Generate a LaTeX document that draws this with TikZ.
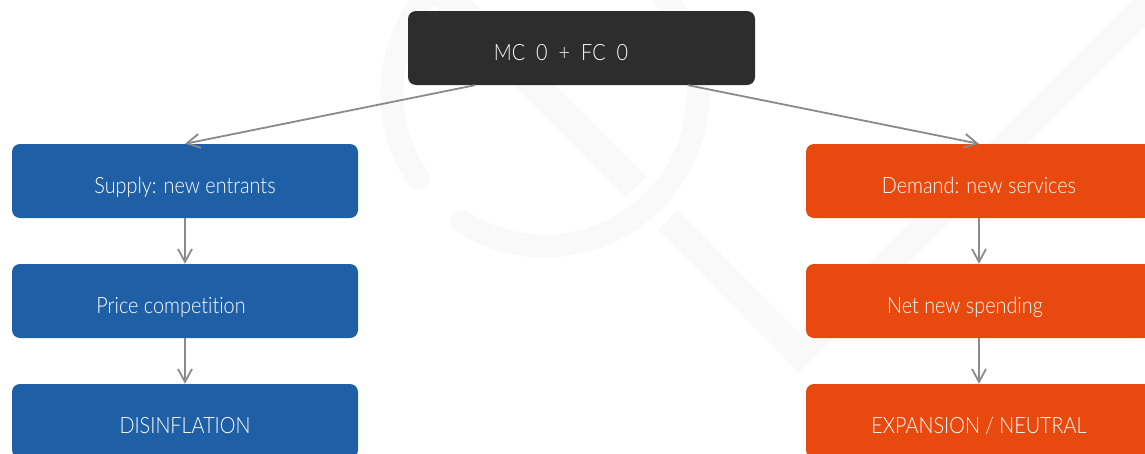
\documentclass[tikz,border=0pt]{standalone}
\usepackage{fontspec}
\setmainfont{Lato}[UprightFont=* Light, FakeStretch=0.88, Ligatures=NoCommon]
\usetikzlibrary{arrows.meta}
\definecolor{boxblue}{RGB}{31,95,166}
\definecolor{boxorange}{RGB}{232,73,14}
\definecolor{boxdark}{RGB}{45,45,45}
\definecolor{linkgray}{RGB}{138,138,138}
\definecolor{wmark}{RGB}{249,249,249}
\begin{document}
\begin{tikzpicture}[x=1pt,y=-1pt,
  card/.style={rectangle, rounded corners=8pt, minimum width=346pt, minimum height=74pt,
    inner sep=0pt, text=white, font=\fontsize{22.5}{27}\selectfont,
    text height=28pt, text depth=4pt},
  bluecard/.style={card, fill=boxblue},
  orangecard/.style={card, fill=boxorange},
  darkcard/.style={card, fill=boxdark, minimum width=347pt},
  link/.style={draw=linkgray, line width=1.8pt,
    -{Straight Barb[length=13pt,width=14pt]}},
  wm/.style={draw=wmark, line cap=butt}]
\useasboundingbox (0,0) rectangle (1145,453);
\clip (0,0) rectangle (1145,453);
% faint watermark
\draw[wm, line width=23pt, line cap=round] (545,93) ++(146:153) arc[start angle=146, end angle=483, radius=153];
\draw[wm, line width=30pt] (430,-20) -- (636,187);
\draw[wm, line width=28pt, line join=miter] (668,220) -- (799,353) -- (1165,-13);
% nodes
\node[darkcard] (top) at (581.5,48) {MC\hspace{11pt}0\hspace{11pt}+\hspace{11pt}FC\hspace{11pt}0\hspace*{41pt}};
\node[bluecard] (sup) at (185,181) {Supply: new entrants};
\node[bluecard] (price) at (185,301) {Price competition\hspace*{28pt}};
\node[bluecard] (dis) at (185,421) {DISINFLATION};
\node[orangecard] (dem) at (979,181) {Demand: new services};
\node[orangecard] (spend) at (979,301) {Net new spending\hspace*{28pt}};
\node[orangecard] (exp) at (979,421) {EXPANSION / NEUTRAL};
% connectors
\coordinate (topL) at ([xshift=-106.5pt]top.south);
\coordinate (topR) at ([xshift=106.5pt]top.south);
\draw[link] (topL) -- (sup.north);
\draw[link] (topR) -- (dem.north);
\draw[link] (sup) -- (price);
\draw[link] (price) -- (dis);
\draw[link] (dem) -- (spend);
\draw[link] (spend) -- (exp);
\end{tikzpicture}
\end{document}
